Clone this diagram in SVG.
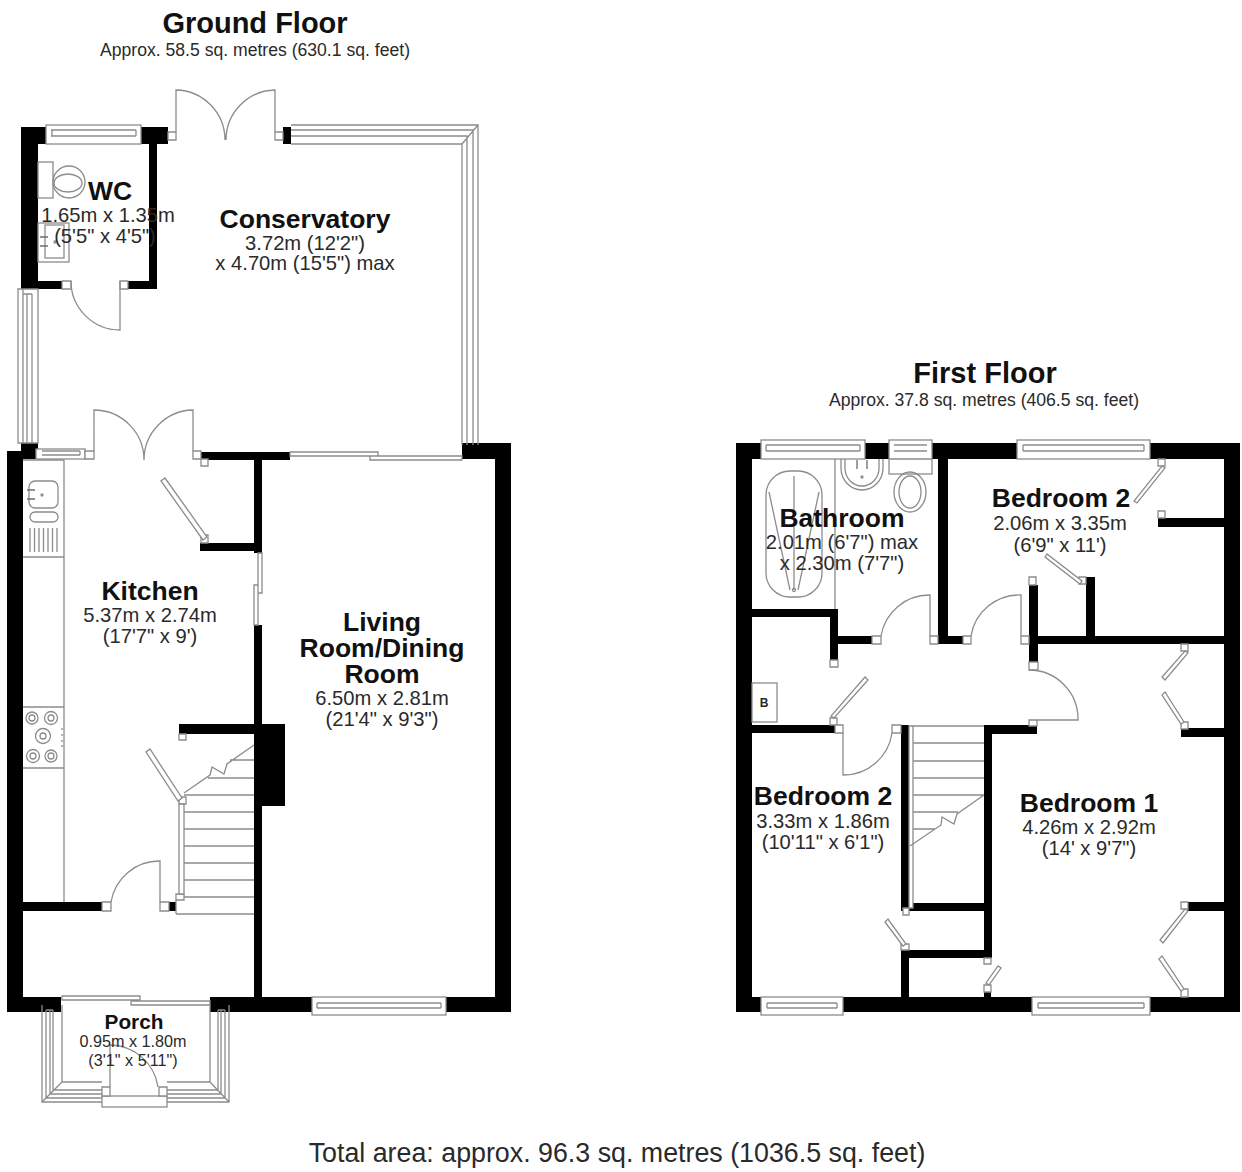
<svg xmlns="http://www.w3.org/2000/svg" width="1242" height="1172" viewBox="0 0 1242 1172">
<style>
text{font-family:"Liberation Sans",Arial,sans-serif;text-anchor:middle;fill:#2a2a2a}
.h{font-weight:bold;font-size:29px;fill:#111}
.r{font-weight:bold;font-size:26.500px;fill:#111}
.d{font-size:20.200px}
.a{font-size:17.600px}
.w{fill:#000;stroke:none}
.l{fill:none;stroke:#8c8c8c;stroke-width:1.3}
.f{fill:#fff;stroke:#8c8c8c;stroke-width:1.3}
.m{fill:none;stroke:#6e6e6e;stroke-width:1.3}
</style>
<rect width="1242" height="1172" fill="#fff"/>
<g id="ground-floor">
<g id="ground-walls" class="w">
<rect x="21" y="127" width="17" height="162"/><rect x="21" y="127" width="25" height="17"/><rect x="141" y="127" width="27" height="17"/><rect x="149" y="144" width="8" height="145"/><rect x="21" y="281" width="41" height="8"/><rect x="128" y="281" width="29" height="8"/><rect x="283" y="127" width="8" height="17"/>
<rect x="7" y="451" width="16" height="561"/><rect x="21" y="443" width="17" height="16"/><rect x="201" y="452" width="89" height="8"/><rect x="254" y="459" width="8" height="94"/><rect x="200" y="543" width="54" height="8"/><rect x="254" y="625" width="8" height="375"/><rect x="262" y="724" width="23" height="82"/><rect x="179" y="724" width="75" height="10"/><rect x="23" y="902" width="79" height="9"/><rect x="169" y="902" width="7" height="9"/>
<rect x="7" y="997" width="54" height="15"/><rect x="210" y="997" width="102" height="15"/><rect x="446" y="997" width="65" height="15"/><rect x="495" y="443" width="16" height="569"/><rect x="462" y="443" width="49" height="16"/>
</g>
<g id="ground-windows">
<rect class="f" x="46" y="125" width="95" height="19"/><path class="l" d="M51 130H136M51 136H136M52 130V136M136 130V136"/>
<path class="l" d="M291 125H478V445M291 130H473V445M291 136H467V445M291 144H462V445M462 144L478 125"/>
<path class="f" d="M18 289H38V443H18Z"/><path class="l" d="M23 289V443M27 294V443M32 294V443M23 294H32"/>
<rect class="f" x="36" y="449" width="49" height="10"/><path class="l" d="M42 451H80M42 455H80M80 451V455"/>
<rect class="f" x="312" y="997" width="134" height="18"/><path class="l" d="M317 1003H441M317 1008H441M317 1003V1008M441 1003V1008"/>
<path class="f" d="M290 452H378V456H290ZM370 456H462V460H370Z"/>
<path class="f" d="M258 553H262V593H258ZM254 585H258V625H254Z"/>
</g>
<g id="ground-doors">
<path class="f" d="M168 132H176V140H168ZM275 132H283V140H275ZM62 281H71V289H62ZM120 281H128V289H120ZM85 451H94V459H85ZM193 451H201V459H193ZM201 459H208V466H201ZM201 535H208V543H201ZM179 734H186V740H179ZM102 902H111V911H102ZM160 902H169V911H160ZM179 797H186V804H179ZM176 894H184V900H176Z"/>
<path class="l" d="M176 132V90A50 50 0 0 1 225 140M275 132V90A50 50 0 0 0 226 140M120 281V330A49 49 0 0 1 71 281M94 451V410A50 50 0 0 1 144 460M193 451V410A50 50 0 0 0 144 460M160 902V861A49 49 0 0 0 111 902"/>
<path class="f" d="M207 537L203 540L161 481L165 478ZM182 798L178 801L146 752L150 749Z"/>
<path class="f" d="M179 804H184V894H179Z"/>
</g>
<g id="ground-stairs">
<path class="l" d="M184 795H254M184 812H254M184 829H254M184 846H254M184 863H254M184 880H254M184 897H254M176 914H254M176 900V914M208 778H254M230 760H254M184 793L210 775L212 767L224 774L227 764L254 745"/>
</g>
<g id="ground-fixtures">
<path class="l" d="M64 460V902M23 460H64M23 557H64M23 707H64M23 768H64"/>
<rect class="l" x="29" y="481" width="29" height="27" rx="6"/><rect class="l" x="30" y="512" width="28" height="10" rx="5"/>
<path class="m" d="M27 490H35M27 499H35" stroke-width="2"/><circle class="l" cx="42" cy="495" r="1"/>
<path class="l" d="M30 528V552M34.500 528V552M39 528V552M43.500 528V552M48 528V552M52.500 528V552M57 528V552"/>
<g class="l"><circle cx="32" cy="718" r="6"/><circle cx="32" cy="718" r="3"/><circle cx="51" cy="718" r="6.500"/><circle cx="51" cy="718" r="3"/><circle cx="43" cy="736" r="7.500"/><circle cx="43" cy="736" r="3"/><circle cx="33" cy="756" r="6.500"/><circle cx="33" cy="756" r="3"/><circle cx="51" cy="756" r="6"/><circle cx="51" cy="756" r="3"/></g>
<path class="l" d="M62 728v2M62 734v2M62 740v2M62 745v2"/>
<rect class="f" x="38" y="162" width="15" height="36"/><ellipse class="l" cx="69" cy="182" rx="16" ry="16"/><ellipse class="l" cx="68" cy="183" rx="14" ry="9"/>
<rect class="l" x="38" y="223" width="31" height="39"/><rect class="l" x="45" y="225" width="19" height="33"/>
<path class="m" d="M40 237H48M40 246H48"/><circle class="l" cx="55" cy="242" r="1"/>
</g>
<g id="porch">
<path class="f" d="M62 996H140V1000H62ZM131 1001H210V1005H131Z"/>
<path class="l" d="M42 1005V1102H102M62 1005V1082H102M42 1102L62 1082M46 1010V1098H102M50 1010V1094H102M53 1010V1090H102M46 1010H53M229 1005V1102H167M210 1005V1082H167M229 1102L210 1082M225 1010V1098H167M221 1010V1094H167M218 1010V1090H167M218 1010H225"/>
<rect class="f" x="102" y="1096" width="65" height="11"/>
<path class="f" d="M102 1087H110V1096H102ZM159 1087H167V1096H159Z"/>
<path class="l" d="M110 1087V1045A49 49 0 0 1 158 1087"/>
</g>
</g>
<g id="first-floor">
<g id="first-walls" class="w">
<rect x="736" y="443" width="16" height="569"/><rect x="736" y="443" width="504" height="16"/><rect x="1224" y="443" width="16" height="569"/><rect x="736" y="997" width="504" height="15"/>
<rect x="938" y="459" width="10" height="185"/><rect x="938" y="636" width="25" height="8"/><rect x="752" y="609" width="86" height="8"/><rect x="830" y="617" width="8" height="43"/><rect x="838" y="636" width="34" height="8"/>
<rect x="1029" y="585" width="9" height="77"/><rect x="1038" y="636" width="186" height="8"/><rect x="1086" y="577" width="9" height="60"/><rect x="1158" y="518" width="66" height="9"/><rect x="1181" y="728" width="43" height="9"/><rect x="984" y="725" width="53" height="9"/><rect x="984" y="725" width="8" height="233"/><rect x="901" y="950" width="83" height="8"/><rect x="901" y="950" width="8" height="47"/><rect x="901" y="725" width="8" height="186"/><rect x="909" y="903" width="75" height="8"/><rect x="752" y="725" width="83" height="8"/><rect x="984" y="992" width="7" height="5"/><rect x="1188" y="902" width="36" height="9"/>
</g>
<g id="first-windows">
<rect class="f" x="761" y="440" width="104" height="19"/><path class="l" d="M766 445H860M766 451H860M766 445V451M860 445V451"/>
<rect class="f" x="889" y="440" width="43" height="34"/><path class="l" d="M894 445H927M894 451H927M889 459H932"/>
<rect class="f" x="1017" y="440" width="133" height="19"/><path class="l" d="M1023 445H1144M1023 451H1144M1023 445V451M1144 445V451"/>
<rect class="f" x="761" y="997" width="82" height="18"/><path class="l" d="M767 1003H837M767 1008H837M767 1003V1008M837 1003V1008"/>
<rect class="f" x="1032" y="997" width="118" height="18"/><path class="l" d="M1038 1003H1144M1038 1008H1144M1038 1003V1008M1144 1003V1008"/>
</g>
<g id="first-doors">
<path class="f" d="M830 660H838V667H830ZM872 636H881V644H872ZM930 636H938V644H930ZM963 636H971V644H963ZM1021 636H1029V644H1021ZM1029 577H1036V585H1029ZM1079 577H1086V584H1079ZM1158 459H1165V466H1158ZM1158 511H1165V518H1158ZM1181 644H1188V651H1181ZM1181 722H1188V729H1181ZM1029 662H1038V670H1029ZM1029 720H1037V726H1029ZM984 958H991V964H984ZM984 985H991V992H984ZM901 944H909V950H901ZM903 908H909V915H903ZM830 718H837V725H830ZM835 725H843V733H835ZM892 725H901V733H892ZM1181 902H1188V909H1181ZM1181 989H1188V997H1181Z"/>
<path class="l" d="M930 636V595A49 49 0 0 0 881 636M1021 636V595A49 49 0 0 0 971 636M1029 670A49 49 0 0 1 1078 720H1037M843 733V775A49 49 0 0 0 892 733"/>
<path class="f" d="M1162 466L1165 468L1137 503L1134 501ZM1082 581L1080 584L1045 557L1047 554ZM1185 651L1188 653L1165 680L1162 677ZM1184 722L1181 724L1162 695L1165 692ZM834 718L831 716L865 677L868 680ZM906 944L903 946L885 922L888 919ZM989 985L986 983L998 966L1001 968ZM1185 909L1188 911L1163 943L1160 940ZM1184 989L1181 991L1159 959L1162 956Z"/>
<path class="f" d="M909 726H913V908H909Z"/>
</g>
<g id="first-stairs">
<path class="l" d="M913 726H984M913 743H984M913 761H984M913 778H984M913 795H984M913 812H958M913 829H935M910 846L941 825L942 817L954 824L957 814L984 795"/>
</g>
<g id="first-fixtures">
<rect class="l" x="766" y="471" width="56" height="126" rx="24"/>
<path class="l" d="M835 459V609M794 476V590M769 492L790 590M819 492L798 590"/><circle class="l" cx="794" cy="590" r="1.500"/>
<path class="l" d="M841 459V468A21 22 0 0 0 883 468V459M845 459V468A17 18 0 0 0 879 468V459"/>
<path class="m" d="M857 460V469M867 460V469"/><circle class="l" cx="862" cy="477" r="1"/>
<ellipse class="l" cx="910" cy="492" rx="16" ry="20"/><ellipse class="l" cx="910" cy="492" rx="11" ry="16"/>
<rect class="l" x="752" y="683" width="25" height="39"/>
<text x="764" y="707" style="font-weight:bold;font-size:12px">B</text>
</g>
</g>
<g id="labels">
<text class="h" x="255" y="33">Ground Floor</text>
<text class="a" x="255" y="56">Approx. 58.5 sq. metres (630.1 sq. feet)</text>
<text class="h" x="985" y="383">First Floor</text>
<text class="a" x="984" y="406">Approx. 37.8 sq. metres (406.5 sq. feet)</text>
<text x="617" y="1162" style="font-size:26.800px">Total area: approx. 96.3 sq. metres (1036.5 sq. feet)</text>
<text class="r" x="110" y="200">WC</text><text class="d" x="108" y="222">1.65m x 1.35m</text><text class="d" x="105" y="243">(5'5" x 4'5")</text>
<text class="r" x="305" y="228">Conservatory</text><text class="d" x="305" y="250">3.72m (12'2")</text><text class="d" x="305" y="270">x 4.70m (15'5") max</text>
<text class="r" x="150" y="600">Kitchen</text><text class="d" x="150" y="622">5.37m x 2.74m</text><text class="d" x="150" y="643">(17'7" x 9')</text>
<text class="r" x="382" y="631">Living</text><text class="r" x="382" y="657">Room/Dining</text><text class="r" x="382" y="683">Room</text><text class="d" x="382" y="705">6.50m x 2.81m</text><text class="d" x="382" y="726">(21'4" x 9'3")</text>
<text x="134" y="1029" style="font-weight:bold;font-size:20.800px;fill:#111">Porch</text><text x="133" y="1047" style="font-size:16.200px">0.95m x 1.80m</text><text x="133" y="1066" style="font-size:16.200px">(3'1" x 5'11")</text>
<text class="r" x="842" y="527">Bathroom</text><text class="d" x="842" y="549">2.01m (6'7") max</text><text class="d" x="842" y="570">x 2.30m (7'7")</text>
<text class="r" x="1061" y="507">Bedroom 2</text><text class="d" x="1060" y="530">2.06m x 3.35m</text><text class="d" x="1060" y="552">(6'9" x 11')</text>
<text class="r" x="823" y="805">Bedroom 2</text><text class="d" x="823" y="828">3.33m x 1.86m</text><text class="d" x="823" y="849">(10'11" x 6'1")</text>
<text class="r" x="1089" y="812">Bedroom 1</text><text class="d" x="1089" y="834">4.26m x 2.92m</text><text class="d" x="1089" y="855">(14' x 9'7")</text>
</g>
</svg>
